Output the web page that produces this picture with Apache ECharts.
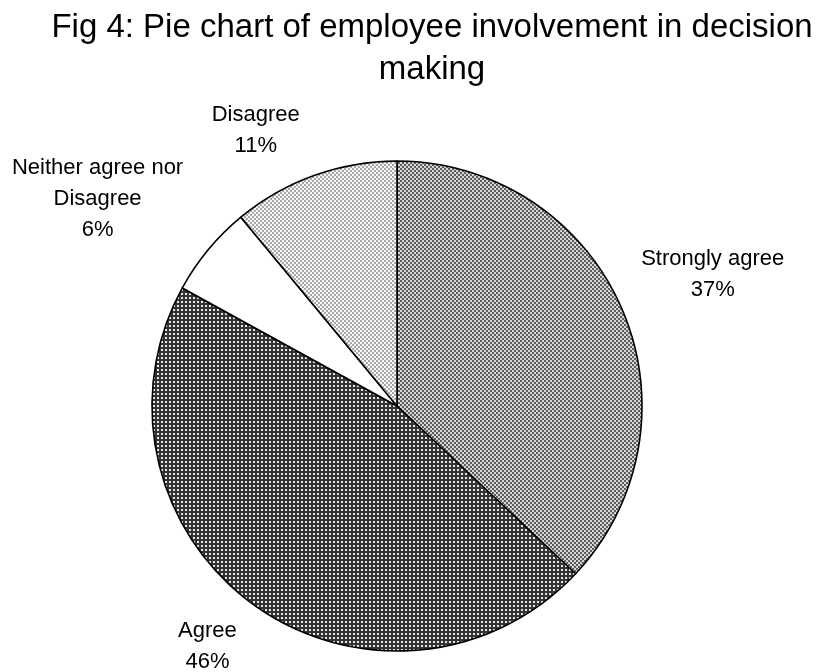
<!DOCTYPE html>
<html><head><meta charset="utf-8">
<script src="https://cdn.jsdelivr.net/npm/echarts@6/dist/echarts.min.js"></script>
<style>html,body{margin:0;padding:0;background:#fff}#c{width:816px;height:672px}</style>
</head><body><div id="c"></div>
<script>
// ---- data ----
const titleText = 'Fig 4: Pie chart of employee involvement in decision\nmaking';
const categories = ['Strongly agree', 'Agree', 'Neither agree nor\nDisagree', 'Disagree'];
const percents = [37, 46, 6, 11];

// ---- styles ----
function pattern(w, h, bg, fg, pts, ds) {
  const c = document.createElement('canvas');
  c.width = w; c.height = h;
  const g = c.getContext('2d');
  g.fillStyle = bg; g.fillRect(0, 0, w, h);
  g.fillStyle = fg;
  pts.forEach(p => g.fillRect(p[0], p[1], ds, ds));
  return { image: c, repeat: 'repeat' };
}
const fills = [
  pattern(4, 4, '#d6d6d6', '#5c5c5c', [[0, 0], [2, 2]], 2),
  pattern(4, 4, '#343434', '#e6e6e6', [[1, 1]], 2),
  '#ffffff',
  pattern(4, 4, '#f6f6f6', '#a8a8a8', [[0, 0], [2, 2]], 2)
];
const lineLen = [87, 52, 80, 48];
const lineLen2 = [6, 10, 44, 37];

const font = '"Liberation Sans", Arial, sans-serif';

const data = categories.map((name, i) => ({
  name: name,
  value: percents[i],
  itemStyle: { color: fills[i] },
  labelLine: { show: false, length: lineLen[i], length2: lineLen2[i] }
}));

const chart = echarts.init(document.getElementById('c'), null, { renderer: 'canvas' });
chart.setOption({
  animation: false,
  backgroundColor: '#ffffff',
  title: {
    text: titleText,
    left: 432,
    top: 7,
    padding: 0,
    textAlign: 'center',
    textStyle: { fontFamily: font, fontSize: 33, fontWeight: 'normal', color: '#000', lineHeight: 42 }
  },
  series: [{
    type: 'pie',
    center: [397, 406],
    radius: 245,
    startAngle: 90,
    clockwise: true,
    avoidLabelOverlap: false,
    itemStyle: { borderColor: '#000', borderWidth: 1.6 },
    label: {
      show: true,
      position: 'outside',
      formatter: '{b}\n{c}%',
      fontFamily: font,
      fontSize: 22,
      lineHeight: 31,
      color: '#000'
    },
    labelLayout: { align: 'center', verticalAlign: 'middle' },
    emphasis: { disabled: true },
    data: data
  }]
});
</script></body></html>
